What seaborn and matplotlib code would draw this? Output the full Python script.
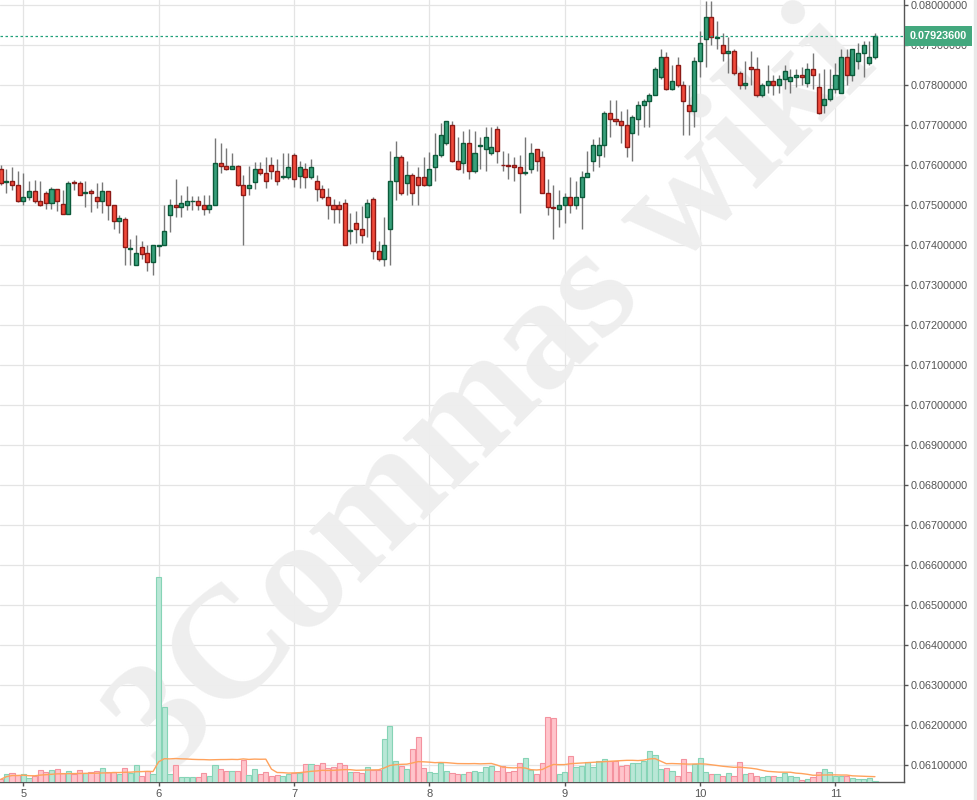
import numpy as np
import pandas as pd
import matplotlib
matplotlib.use("Agg")
import matplotlib.pyplot as plt
import matplotlib.dates as mdates
from matplotlib.ticker import FuncFormatter, FixedLocator
from matplotlib.patches import Rectangle
import seaborn as sns

# hourly candles, the first one starts at 20:00 the day before "5"
start = "2018-03-04 20:00"

opens = [
    0.07590, 0.07558, 0.07561, 0.07552, 0.07510, 0.07522, 0.07537, 0.07512, 0.07530, 0.07505, 0.07540, 0.07503,
    0.07479, 0.07558, 0.07557, 0.07530, 0.07537, 0.07522, 0.07510, 0.07535, 0.07500, 0.07462, 0.07467, 0.07390,
    0.07351, 0.07397, 0.07380, 0.07359, 0.07399, 0.07400, 0.07475, 0.07500, 0.07495, 0.07502, 0.07510, 0.07511,
    0.07500, 0.07492, 0.07500, 0.07605, 0.07599, 0.07590, 0.07599, 0.07550, 0.07544, 0.07559, 0.07590, 0.07582,
    0.07600, 0.07587, 0.07570, 0.07572, 0.07627, 0.07574, 0.07590, 0.07571, 0.07560, 0.07540, 0.07520, 0.07500,
    0.07502, 0.07507, 0.07435, 0.07457, 0.07440, 0.07472, 0.07515, 0.07387, 0.07367, 0.07442, 0.07562, 0.07622,
    0.07555, 0.07577, 0.07570, 0.07570, 0.07550, 0.07597, 0.07627, 0.07655, 0.07702, 0.07610, 0.07605, 0.07657,
    0.07585, 0.07649, 0.07640, 0.07632, 0.07690, 0.07602, 0.07601, 0.07600, 0.07597, 0.07581, 0.07590, 0.07640,
    0.07620, 0.07532, 0.07496, 0.07492, 0.07500, 0.07520, 0.07500, 0.07520, 0.07572, 0.07610, 0.07625, 0.07652,
    0.07732, 0.07715, 0.07712, 0.07700, 0.07682, 0.07717, 0.07752, 0.07762, 0.07777, 0.07820, 0.07870, 0.07790,
    0.07850, 0.07800, 0.07750, 0.07735, 0.07860, 0.07917, 0.07970, 0.07919, 0.07900, 0.07880, 0.07887, 0.07830,
    0.07800, 0.07847, 0.07840, 0.07775, 0.07800, 0.07812, 0.07800, 0.07817, 0.07810, 0.07820, 0.07825, 0.07807,
    0.07840, 0.07797, 0.07752, 0.07765, 0.07790, 0.07782, 0.07872, 0.07825, 0.07860, 0.07882, 0.07857, 0.07872,
]
highs = [
    0.07600, 0.07591, 0.07596, 0.07586, 0.07581, 0.07561, 0.07563, 0.07561, 0.07535, 0.07545, 0.07542, 0.07538,
    0.07561, 0.07563, 0.07561, 0.07561, 0.07540, 0.07556, 0.07558, 0.07537, 0.07502, 0.07477, 0.07470, 0.07416,
    0.07427, 0.07410, 0.07400, 0.07402, 0.07402, 0.07501, 0.07516, 0.07566, 0.07526, 0.07548, 0.07523, 0.07523,
    0.07525, 0.07525, 0.07669, 0.07655, 0.07643, 0.07631, 0.07601, 0.07576, 0.07598, 0.07608, 0.07608, 0.07621,
    0.07621, 0.07615, 0.07631, 0.07631, 0.07630, 0.07611, 0.07605, 0.07615, 0.07575, 0.07550, 0.07543, 0.07516,
    0.07512, 0.07515, 0.07480, 0.07485, 0.07498, 0.07516, 0.07520, 0.07412, 0.07471, 0.07636, 0.07661, 0.07625,
    0.07611, 0.07580, 0.07596, 0.07621, 0.07633, 0.07681, 0.07705, 0.07712, 0.07712, 0.07672, 0.07687, 0.07690,
    0.07685, 0.07672, 0.07696, 0.07695, 0.07698, 0.07637, 0.07632, 0.07622, 0.07627, 0.07672, 0.07657, 0.07642,
    0.07637, 0.07567, 0.07552, 0.07539, 0.07530, 0.07570, 0.07560, 0.07587, 0.07637, 0.07667, 0.07670, 0.07737,
    0.07764, 0.07763, 0.07735, 0.07740, 0.07727, 0.07760, 0.07765, 0.07780, 0.07845, 0.07891, 0.07883, 0.07851,
    0.07871, 0.07812, 0.07801, 0.07871, 0.07937, 0.08012, 0.08012, 0.07962, 0.07930, 0.07922, 0.07890, 0.07835,
    0.07860, 0.07887, 0.07870, 0.07805, 0.07850, 0.07827, 0.07827, 0.07850, 0.07840, 0.07840, 0.07845, 0.07857,
    0.07880, 0.07830, 0.07842, 0.07842, 0.07855, 0.07890, 0.07890, 0.07892, 0.07905, 0.07910, 0.07912, 0.07930,
]
lows = [
    0.07552, 0.07530, 0.07538, 0.07508, 0.07502, 0.07513, 0.07507, 0.07498, 0.07491, 0.07491, 0.07486, 0.07479,
    0.07479, 0.07538, 0.07525, 0.07497, 0.07484, 0.07493, 0.07482, 0.07463, 0.07441, 0.07431, 0.07351, 0.07351,
    0.07351, 0.07366, 0.07336, 0.07327, 0.07374, 0.07400, 0.07434, 0.07472, 0.07472, 0.07488, 0.07488, 0.07488,
    0.07477, 0.07480, 0.07500, 0.07581, 0.07588, 0.07590, 0.07548, 0.07402, 0.07525, 0.07541, 0.07575, 0.07544,
    0.07565, 0.07550, 0.07565, 0.07565, 0.07545, 0.07544, 0.07544, 0.07565, 0.07512, 0.07515, 0.07467, 0.07456,
    0.07456, 0.07400, 0.07403, 0.07407, 0.07405, 0.07421, 0.07365, 0.07362, 0.07349, 0.07352, 0.07513, 0.07525,
    0.07527, 0.07502, 0.07502, 0.07548, 0.07548, 0.07562, 0.07620, 0.07650, 0.07608, 0.07588, 0.07580, 0.07565,
    0.07580, 0.07592, 0.07587, 0.07627, 0.07605, 0.07585, 0.07566, 0.07562, 0.07482, 0.07575, 0.07582, 0.07587,
    0.07530, 0.07477, 0.07415, 0.07445, 0.07455, 0.07482, 0.07490, 0.07442, 0.07570, 0.07585, 0.07597, 0.07622,
    0.07670, 0.07700, 0.07655, 0.07620, 0.07612, 0.07675, 0.07697, 0.07697, 0.07775, 0.07815, 0.07788, 0.07788,
    0.07795, 0.07677, 0.07677, 0.07697, 0.07820, 0.07847, 0.07902, 0.07892, 0.07860, 0.07832, 0.07825, 0.07790,
    0.07792, 0.07800, 0.07772, 0.07772, 0.07782, 0.07777, 0.07780, 0.07790, 0.07780, 0.07795, 0.07800, 0.07795,
    0.07792, 0.07728, 0.07731, 0.07760, 0.07782, 0.07780, 0.07802, 0.07810, 0.07840, 0.07822, 0.07852, 0.07867,
]
closes = [
    0.07557, 0.07560, 0.07552, 0.07510, 0.07522, 0.07537, 0.07510, 0.07500, 0.07505, 0.07540, 0.07510, 0.07479,
    0.07557, 0.07556, 0.07527, 0.07533, 0.07532, 0.07510, 0.07535, 0.07500, 0.07462, 0.07468, 0.07397, 0.07393,
    0.07382, 0.07379, 0.07359, 0.07400, 0.07401, 0.07436, 0.07500, 0.07495, 0.07505, 0.07511, 0.07512, 0.07500,
    0.07492, 0.07500, 0.07607, 0.07599, 0.07590, 0.07599, 0.07550, 0.07527, 0.07550, 0.07590, 0.07582, 0.07561,
    0.07587, 0.07560, 0.07573, 0.07597, 0.07565, 0.07597, 0.07571, 0.07595, 0.07540, 0.07520, 0.07500, 0.07490,
    0.07490, 0.07402, 0.07438, 0.07440, 0.07426, 0.07505, 0.07385, 0.07367, 0.07400, 0.07562, 0.07622, 0.07530,
    0.07577, 0.07532, 0.07552, 0.07550, 0.07590, 0.07627, 0.07677, 0.07710, 0.07610, 0.07590, 0.07657, 0.07585,
    0.07630, 0.07652, 0.07670, 0.07647, 0.07637, 0.07600, 0.07599, 0.07597, 0.07580, 0.07583, 0.07630, 0.07610,
    0.07532, 0.07495, 0.07494, 0.07500, 0.07520, 0.07500, 0.07520, 0.07572, 0.07582, 0.07650, 0.07652, 0.07732,
    0.07715, 0.07710, 0.07700, 0.07647, 0.07720, 0.07752, 0.07762, 0.07777, 0.07840, 0.07870, 0.07790, 0.07810,
    0.07800, 0.07760, 0.07735, 0.07860, 0.07905, 0.07970, 0.07920, 0.07921, 0.07880, 0.07887, 0.07830, 0.07800,
    0.07805, 0.07840, 0.07775, 0.07800, 0.07812, 0.07800, 0.07817, 0.07835, 0.07820, 0.07825, 0.07820, 0.07840,
    0.07827, 0.07730, 0.07765, 0.07790, 0.07827, 0.07872, 0.07825, 0.07890, 0.07882, 0.07900, 0.07870, 0.079236,
]
volumes = [
    8, 24, 26, 20, 24, 11, 17, 35, 31, 35, 38, 28,
    32, 24, 35, 26, 29, 32, 41, 30, 30, 23, 41, 28,
    50, 19, 32, 24, 614, 224, 24, 50, 14, 14, 14, 14,
    26, 17, 50, 38, 32, 32, 32, 65, 20, 38, 23, 29,
    17, 20, 17, 23, 28, 26, 53, 53, 50, 56, 42, 44,
    56, 50, 29, 29, 26, 44, 35, 35, 128, 167, 62, 47,
    38, 98, 134, 41, 29, 26, 56, 32, 26, 23, 23, 29,
    32, 29, 44, 47, 32, 47, 29, 32, 56, 71, 35, 23,
    56, 194, 191, 23, 29, 77, 44, 47, 59, 44, 62, 68,
    62, 62, 47, 50, 56, 56, 62, 92, 80, 38, 41, 32,
    17, 68, 29, 53, 71, 29, 23, 23, 17, 26, 17, 59,
    23, 26, 17, 14, 17, 17, 14, 26, 17, 14, 5, 8,
    14, 29, 38, 29, 17, 17, 17, 11, 8, 8, 11, 3,
]
price_levels = [0.061, 0.062, 0.063, 0.064, 0.065, 0.066, 0.067, 0.068, 0.069, 0.070,
                0.071, 0.072, 0.073, 0.074, 0.075, 0.076, 0.077, 0.078, 0.079, 0.080]
watermark = "3Commas wiki"

df = pd.DataFrame({"open": opens, "high": highs, "low": lows,
                   "close": closes, "volume": volumes})
df["time"] = pd.date_range(start, periods=len(df), freq="h")
df["x"] = mdates.date2num(df["time"])
df["up"] = df["close"] >= df["open"]
df["vol_ma"] = df["volume"].rolling(20, min_periods=1).mean()
last_price = closes[-1]

sns.set_style("whitegrid", {"grid.color": "#e4e4e4"})
plt.rcParams["font.family"] = ["Liberation Sans", "DejaVu Sans"]

fig = plt.figure(figsize=(9.77, 8), dpi=100)
ax = fig.add_axes([0, 18 / 800, 904 / 977, 782 / 800])
ax.set_axisbelow(True)
ax.grid(True, color="#e4e4e4", lw=0.9)

# watermark sits under the candles
ax.text(0.548, 0.495, watermark, transform=ax.transAxes, rotation=45,
        fontsize=114, family="Liberation Serif", weight="bold",
        color="#eeeeee", ha="center", va="center", zorder=1)

# candles
hour = 1 / 24
body_fill = np.where(df["up"], "#38a07b", "#f14a3b")
body_edge = np.where(df["up"], "#0c5a3a", "#8c1a16")
ax.vlines(df["x"], df["low"], df["high"], color="#777777", lw=1.0, zorder=2)
ax.bar(df["x"], (df["close"] - df["open"]).abs(),
       bottom=df[["open", "close"]].min(axis=1), width=0.72 * hour,
       color=body_fill, edgecolor=body_edge, lw=1.0, zorder=3)

ax.axhline(last_price, color="#21a07a", lw=0.9, ls=(0, (2, 2)), zorder=4)

day0 = mdates.date2num(pd.Timestamp("2018-03-05"))
ax.set_xlim(day0 - 4.13 * hour, day0 + 156.15 * hour)
ax.set_ylim(0.0605830, 0.0801325)

# volume on its own scale at the bottom
ax2 = ax.twinx()
vol_fill = np.where(df["up"], "#b9e7d6", "#ffc4cb")
vol_edge = np.where(df["up"], "#86d4b6", "#f4929f")
ax2.bar(df["x"], df["volume"], width=0.92 * hour, color=vol_fill,
        edgecolor=vol_edge, lw=0.8, zorder=2)
sns.lineplot(x=df["x"], y=df["vol_ma"], ax=ax2, color="#ffa25c", lw=1.0, zorder=3)
ax2.set_ylim(0, 2346)
ax2.set_yticks([])
ax2.set_ylabel("")
ax2.grid(False)
for side in ax2.spines:
    ax2.spines[side].set_visible(False)

# twinx moves the price ticks to the left, put them back on the right
ax.yaxis.tick_right()
ax.yaxis.set_major_locator(FixedLocator(price_levels))
ax.yaxis.set_major_formatter(FuncFormatter(lambda v, p: f"{v:.8f}"))
ax.xaxis.set_major_locator(mdates.DayLocator())
ax.xaxis.set_major_formatter(FuncFormatter(lambda v, p: str(mdates.num2date(v).day)))
ax.tick_params(axis="y", right=True, left=False, labelright=True, labelleft=False,
               length=3, width=1, color="#555555",
               labelsize=7.8, labelcolor="#555555", pad=2)
ax.tick_params(axis="x", bottom=True, length=3, width=1, color="#555555",
               labelsize=8, labelcolor="#555555", pad=2)
for side in ["top", "left"]:
    ax.spines[side].set_visible(False)
for side in ["right", "bottom"]:
    ax.spines[side].set_visible(True)
    ax.spines[side].set_color("#555555")
    ax.spines[side].set_linewidth(1)

# current price tag on the axis
ax2.annotate(f"{last_price:.8f}", xy=(1, (last_price - 0.0605830) / (0.0801325 - 0.0605830)),
             xycoords="axes fraction", xytext=(4, 0), textcoords="offset points",
             ha="left", va="center", fontsize=7.8, weight="bold", color="white",
             annotation_clip=False,
             bbox=dict(boxstyle="square,pad=0.45", fc="#43a87e", ec="none"), zorder=10)

fig.patches.append(Rectangle((974 / 977, 0), 3 / 977, 1, transform=fig.transFigure,
                             color="#e9e9e9", zorder=0))

fig.savefig("out.png", dpi=100)
